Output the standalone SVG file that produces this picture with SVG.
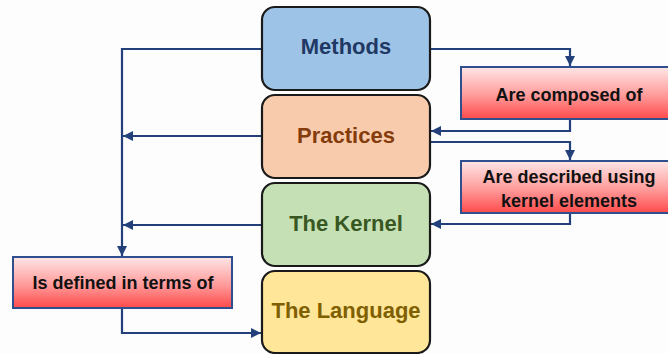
<svg xmlns="http://www.w3.org/2000/svg" width="668" height="354" viewBox="0 0 668 354">
  <style>
    .node rect { stroke: #1a1a1a; stroke-width: 2.2; }
    .node text { font-family: "Liberation Sans", Arial, sans-serif; font-weight: bold; font-size: 22px; text-anchor: middle; }
    .label rect { fill: url(#redGrad); stroke: #2F4F8F; stroke-width: 2; }
    .label text { font-family: "Liberation Sans", Arial, sans-serif; font-weight: bold; font-size: 18px; text-anchor: middle; fill: #111; }
    .conn path { fill: none; stroke: #23407A; stroke-width: 2.2; }
  </style>
  <defs>
    <linearGradient id="redGrad" x1="0" y1="0" x2="0" y2="1">
      <stop offset="0" stop-color="#FFE6E6"/>
      <stop offset="0.55" stop-color="#FF9A9A"/>
      <stop offset="1" stop-color="#FF4A4A"/>
    </linearGradient>
    <marker id="arrow" viewBox="0 0 10 10" refX="10" refY="5" markerWidth="10" markerHeight="10" markerUnits="userSpaceOnUse" orient="auto">
      <path d="M0,0 L10,5 L0,10 Z" fill="#23407A"/>
    </marker>
  </defs>
  <rect width="668" height="354" fill="#FDFDFD"/>

  <!-- connectors -->
  <g id="connectors" class="conn">
    <!-- left rail: everything feeds "Is defined in terms of" -->
    <path d="M262,49 H122 V256" marker-end="url(#arrow)"/>
    <path d="M262,136 H123" marker-end="url(#arrow)"/>
    <path d="M262,225 H123" marker-end="url(#arrow)"/>
    <path d="M122,308 V333 H261" marker-end="url(#arrow)"/>
    <!-- right side relations -->
    <path d="M430,49 H570 V66" marker-end="url(#arrow)"/>
    <path d="M570,119 V131 H431" marker-end="url(#arrow)"/>
    <path d="M430,142 H570 V160" marker-end="url(#arrow)"/>
    <path d="M570,213 V224 H431" marker-end="url(#arrow)"/>
  </g>

  <!-- main nodes -->
  <g id="methods" class="node">
    <rect x="262" y="7" width="168" height="83" rx="13" fill="#9DC3E6"/>
    <text x="346" y="54" fill="#1F3864">Methods</text>
  </g>
  <g id="practices" class="node">
    <rect x="262" y="95" width="168" height="83" rx="13" fill="#F8CBAD"/>
    <text x="346" y="143" fill="#843C0C">Practices</text>
  </g>
  <g id="kernel" class="node">
    <rect x="262" y="183" width="168" height="83" rx="13" fill="#C5E0B4"/>
    <text x="346" y="231" fill="#385723">The Kernel</text>
  </g>
  <g id="language" class="node">
    <rect x="262" y="271" width="168" height="82" rx="13" fill="#FFE699"/>
    <text x="346" y="318" fill="#7F6000">The Language</text>
  </g>

  <!-- relation labels -->
  <g id="composed" class="label">
    <rect x="461" y="67" width="220" height="52"/>
    <text x="569" y="101">Are composed of</text>
  </g>
  <g id="described" class="label">
    <rect x="461" y="161" width="220" height="52"/>
    <text x="569" y="183">Are described using</text>
    <text x="569" y="207">kernel elements</text>
  </g>
  <g id="defined" class="label">
    <rect x="13" y="257" width="219" height="51"/>
    <text x="123" y="289">Is defined in terms of</text>
  </g>
</svg>
